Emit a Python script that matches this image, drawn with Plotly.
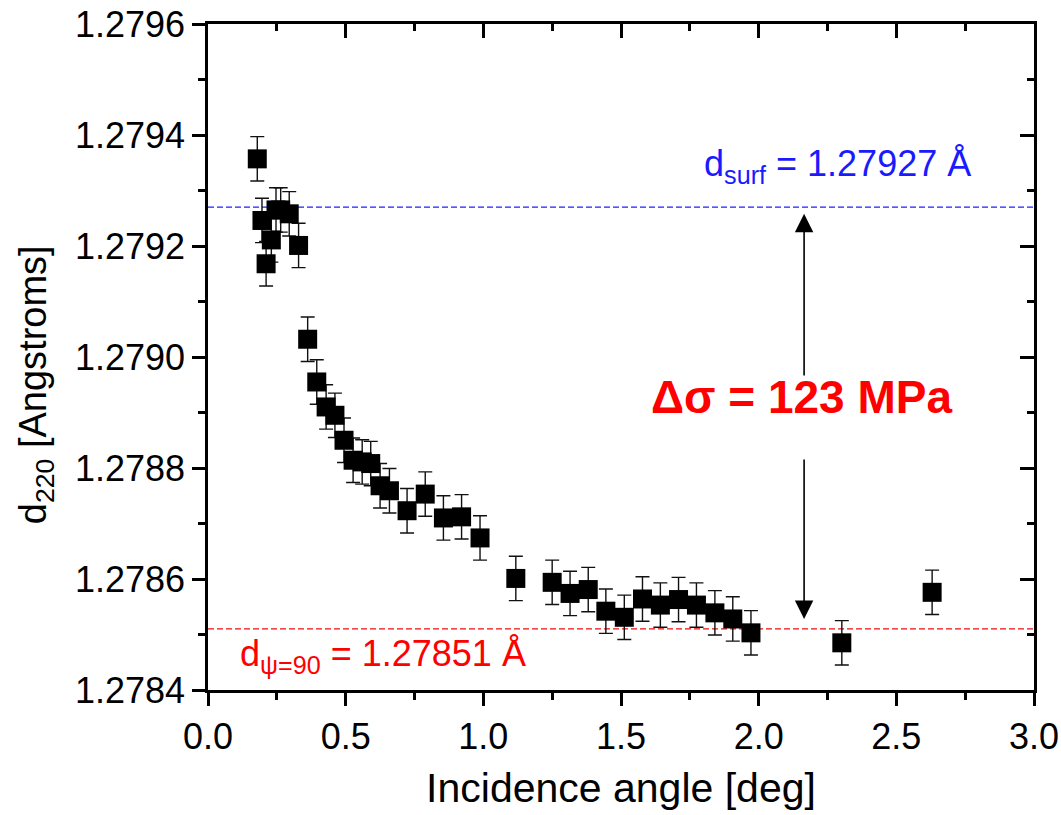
import plotly.graph_objects as go

# ---- data ----
angle = [0.179, 0.196, 0.211, 0.230, 0.247, 0.264, 0.295, 0.329, 0.362, 0.395,
         0.429, 0.461, 0.494, 0.527, 0.560, 0.591, 0.625, 0.659, 0.723, 0.789,
         0.855, 0.921, 0.988, 1.118, 1.250, 1.315, 1.381, 1.445, 1.512, 1.578,
         1.643, 1.709, 1.774, 1.841, 1.906, 1.972, 2.302, 2.630]
d220 = [1.279357, 1.279246, 1.279168, 1.279211, 1.279265, 1.279265, 1.279258, 1.279201,
        1.279032, 1.278955, 1.278910, 1.278895, 1.278850, 1.278814, 1.278811, 1.278808,
        1.278768, 1.278759, 1.278723, 1.278753, 1.278710, 1.278712, 1.278674, 1.278601,
        1.278594, 1.278574, 1.278581, 1.278542, 1.278531, 1.278564, 1.278553, 1.278563,
        1.278553, 1.278539, 1.278528, 1.278503, 1.278485, 1.278576]
d220_err = [0.00004] * len(angle)

d_surf = 1.27927
d_psi90 = 1.27851
x_range = [0.0, 3.0]
y_range = [1.2784, 1.2796]
arrow_x = 2.165

FONT = "Liberation Sans, Arial, sans-serif"

fig = go.Figure()

# reference lines
fig.add_trace(go.Scatter(x=x_range, y=[d_surf, d_surf], mode="lines",
                         line=dict(color="#1f1fff", width=1.3, dash="6px,3px"),
                         showlegend=False, hoverinfo="skip"))
fig.add_trace(go.Scatter(x=x_range, y=[d_psi90, d_psi90], mode="lines",
                         line=dict(color="#ee1010", width=1.3, dash="6px,3px"),
                         showlegend=False, hoverinfo="skip"))

# data
fig.add_trace(go.Scatter(
    x=angle, y=d220, mode="markers",
    marker=dict(symbol="square", size=19, color="black", line=dict(width=0)),
    error_y=dict(type="data", array=d220_err, visible=True, color="#111",
                 thickness=1.4, width=7),
    showlegend=False))

# dummy traces for mirrored (inward) ticks on top and right
fig.add_trace(go.Scatter(x=[None], y=[None], xaxis="x2", yaxis="y",
                         showlegend=False, hoverinfo="skip"))
fig.add_trace(go.Scatter(x=[None], y=[None], xaxis="x", yaxis="y2",
                         showlegend=False, hoverinfo="skip"))

axis_common = dict(showgrid=False, zeroline=False, linecolor="black",
                   tickcolor="black", tickwidth=2.5, automargin=False)

fig.update_layout(
    width=1061, height=815,
    margin=dict(l=208, r=27, t=24, b=125),
    paper_bgcolor="white", plot_bgcolor="white",
    font=dict(family=FONT, color="black"),
    xaxis=dict(range=x_range, dtick=0.5, tick0=0, tickformat=".1f",
               ticks="outside", ticklen=13, showline=True, linewidth=2.5,
               mirror=True,
               minor=dict(dtick=0.25, ticks="outside", ticklen=7,
                          tickwidth=2.5, tickcolor="black", showgrid=False),
               tickfont=dict(size=36, family=FONT),
               title=dict(text="Incidence angle [deg]", font=dict(size=41, family=FONT),
                          standoff=18),
               **axis_common),
    yaxis=dict(range=y_range, dtick=0.0002, tick0=1.2784, tickformat=".4f",
               ticks="outside", ticklen=13, showline=True, linewidth=2.5,
               mirror=True,
               minor=dict(dtick=0.0001, ticks="outside", ticklen=7,
                          tickwidth=2.5, tickcolor="black", showgrid=False),
               tickfont=dict(size=36, family=FONT),
               **axis_common),
    xaxis2=dict(range=x_range, overlaying="x", side="top", anchor="y",
                dtick=0.5, tick0=0, ticks="inside", ticklen=14, showticklabels=False,
                showline=False,
                minor=dict(dtick=0.25, ticks="inside", ticklen=7,
                           tickwidth=2.5, tickcolor="black", showgrid=False),
                **axis_common),
    yaxis2=dict(range=y_range, overlaying="y", side="right", anchor="x",
                dtick=0.0002, tick0=1.2784, ticks="inside", ticklen=14,
                showticklabels=False, showline=False,
                minor=dict(dtick=0.0001, ticks="inside", ticklen=7,
                           tickwidth=2.5, tickcolor="black", showgrid=False),
                **axis_common),
)

# y-axis title as rotated annotation
fig.add_annotation(x=-0.208, y=0.458, xref="paper", yref="paper", showarrow=False,
                   xanchor="center", yanchor="middle",
                   textangle=-90, text="d<sub>220</sub> [Angstroms]",
                   font=dict(size=38, family=FONT, color="black"))

# text annotations
fig.add_annotation(x=2.288, y=1.279345, xref="x", yref="y", showarrow=False,
                   xanchor="center", yanchor="middle",
                   text="d<sub>surf</sub> = 1.27927 Å",
                   font=dict(size=36, color="#1a1aff", family=FONT))
fig.add_annotation(x=0.636, y=1.278462, xref="x", yref="y", showarrow=False,
                   xanchor="center", yanchor="middle",
                   text="d<sub>ψ=90</sub> = 1.27851 Å",
                   font=dict(size=36, color="#ff0000", family=FONT))
fig.add_annotation(x=2.154, y=1.278928, xref="x", yref="y", showarrow=False,
                   xanchor="center", yanchor="middle",
                   text="<b>Δσ = 123 MPa</b>",
                   font=dict(size=46, color="#ff0000", family=FONT))

# arrows
fig.add_annotation(x=arrow_x, y=1.279258, ax=arrow_x, ay=1.278964,
                   xref="x", yref="y", axref="x", ayref="y", text="",
                   showarrow=True, arrowhead=2, arrowsize=2.3, arrowwidth=1.6,
                   arrowcolor="black")
fig.add_annotation(x=arrow_x, y=1.278528, ax=arrow_x, ay=1.278818,
                   xref="x", yref="y", axref="x", ayref="y", text="",
                   showarrow=True, arrowhead=2, arrowsize=2.3, arrowwidth=1.6,
                   arrowcolor="black")

fig.write_html("out.html")
